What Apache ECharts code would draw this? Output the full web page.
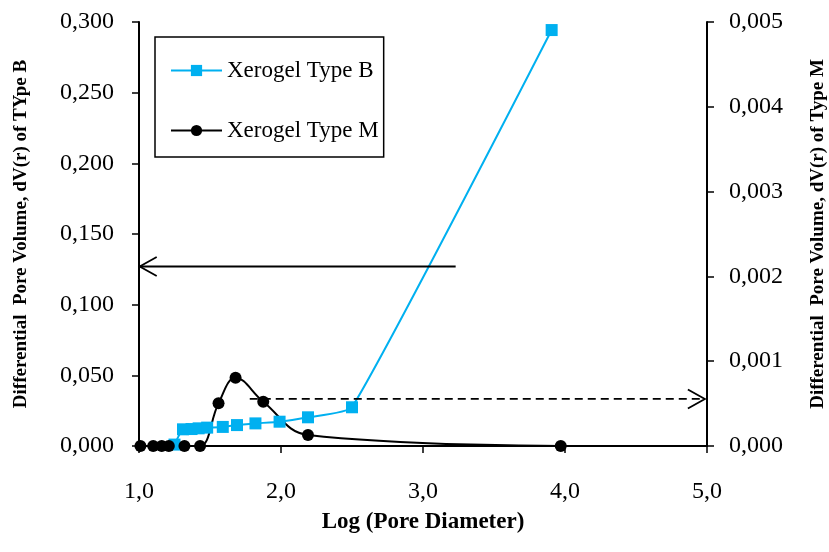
<!DOCTYPE html>
<html>
<head>
<meta charset="utf-8">
<script src="https://cdn.jsdelivr.net/npm/echarts@6/dist/echarts.min.js"></script>
<style>
html,body{margin:0;padding:0;background:#fff;}
#chart{width:829px;height:552px;}
</style>
</head>
<body>
<div id="chart"></div>
<script>
// Xerogel Type B (left axis): [log pore diameter, dV(r)]
const typeBX = [1.25, 1.31, 1.37, 1.42, 1.48, 1.59, 1.69, 1.82, 1.99, 2.19, 2.50, 3.906];
const typeBY = [0.001, 0.0118, 0.012, 0.0125, 0.013, 0.0135, 0.0148, 0.016, 0.0172, 0.0203, 0.0274, 0.2943];
// Xerogel Type M (right axis)
const typeMX = [1.01, 1.10, 1.16, 1.21, 1.32, 1.43, 1.56, 1.68, 1.875, 2.19, 3.97];
const typeMY = [0, 0, 0, 0, 0, 0, 0.000503, 0.000805, 0.000522, 0.00013, 0];

const xTicks = {min: 1, max: 5, interval: 1};
const leftTicks = {min: 0, max: 0.3, interval: 0.05};
const rightTicks = {min: 0, max: 0.005, interval: 0.001};

// annotation arrows (left-axis data coordinates): from -> to
const solidArrow = {from: [3.23, 0.127], to: [1.005, 0.127]};
const dashedArrow = {from: [1.78, 0.0333], to: [4.985, 0.0333]};

const serif = '"Liberation Serif", "Times New Roman", serif';
const blue = '#00B0F0';

function fmt(d) { return v => v.toFixed(d).replace('.', ','); }

const chart = echarts.init(document.getElementById('chart'));
const axisCommon = {
  axisLine: {show: true, onZero: false, lineStyle: {color: '#000', width: 2}},
  axisTick: {show: true, inside: false, length: 7, lineStyle: {color: '#000', width: 1.5}},
  splitLine: {show: false},
  nameTextStyle: {fontFamily: serif, fontWeight: 'bold', color: '#000'}
};
chart.setOption({
  animation: false,
  backgroundColor: '#fff',
  grid: {left: 139, right: 122, top: 22, bottom: 106, containLabel: false, outerBoundsMode: 'none'},
  legend: {
    left: 155, top: 37, orient: 'vertical',
    padding: [22, 5, 15, 15],
    itemGap: 37,
    itemWidth: 51, itemHeight: 14,
    borderColor: '#000', borderWidth: 1.5,
    textStyle: {fontFamily: serif, fontSize: 23, color: '#000'},
    data: ['Xerogel Type B', 'Xerogel Type M']
  },
  xAxis: Object.assign({}, axisCommon, {
    type: 'value', min: xTicks.min, max: xTicks.max, interval: xTicks.interval,
    name: 'Log (Pore Diameter)', nameLocation: 'middle', nameGap: 65,
    nameTextStyle: Object.assign({}, axisCommon.nameTextStyle, {fontSize: 23}),
    axisLabel: {formatter: fmt(1), fontFamily: serif, fontSize: 24, color: '#000', margin: 34}
  }),
  yAxis: [
    Object.assign({}, axisCommon, {
      type: 'value', position: 'left', min: leftTicks.min, max: leftTicks.max, interval: leftTicks.interval,
      name: 'Differential  Pore Volume, dV(r) of TYpe B', nameLocation: 'middle', nameGap: 108, nameRotate: 90,
      nameTextStyle: Object.assign({}, axisCommon.nameTextStyle, {fontSize: 19}),
      axisLabel: {formatter: fmt(3), fontFamily: serif, fontSize: 24, color: '#000', margin: 25}
    }),
    Object.assign({}, axisCommon, {
      type: 'value', position: 'right', min: rightTicks.min, max: rightTicks.max, interval: rightTicks.interval,
      name: 'Differential  Pore Volume, dV(r) of Type M', nameLocation: 'middle', nameGap: 102, nameRotate: 90,
      nameTextStyle: Object.assign({}, axisCommon.nameTextStyle, {fontSize: 19}),
      axisLabel: {formatter: fmt(3), fontFamily: serif, fontSize: 24, color: '#000', margin: 22}
    })
  ],
  series: [
    {
      name: 'Xerogel Type B', type: 'line', yAxisIndex: 0, smooth: 0.15,
      data: typeBX.map((x, i) => [x, typeBY[i]]),
      symbol: 'rect', symbolSize: 12,
      itemStyle: {color: blue}, lineStyle: {color: blue, width: 2}
    },
    {
      name: 'Xerogel Type M', type: 'line', yAxisIndex: 1, smooth: 0.4,
      data: typeMX.map((x, i) => [x, typeMY[i]]),
      symbol: 'circle', symbolSize: 12,
      itemStyle: {color: '#000'}, lineStyle: {color: '#000', width: 2}
    }
  ]
});

function arrowGraphics(arrow, dashed) {
  const p0 = chart.convertToPixel({xAxisIndex: 0, yAxisIndex: 0}, arrow.from);
  const p1 = chart.convertToPixel({xAxisIndex: 0, yAxisIndex: 0}, arrow.to);
  const dir = Math.sign(p1[0] - p0[0]);
  const style = {stroke: '#000', lineWidth: 1.8, fill: null};
  if (dashed) style.lineDash = [8, 5];
  return [
    {type: 'line', shape: {x1: p0[0], y1: p0[1], x2: p1[0], y2: p1[1]}, style: style, z: 100},
    {type: 'polyline', shape: {points: [[p1[0] - dir * 17, p1[1] - 9.5], [p1[0], p1[1]], [p1[0] - dir * 17, p1[1] + 9.5]]},
     style: {stroke: '#000', lineWidth: 1.8, fill: null}, z: 100}
  ];
}
chart.setOption({graphic: arrowGraphics(solidArrow, false).concat(arrowGraphics(dashedArrow, true))});
</script>
</body>
</html>
